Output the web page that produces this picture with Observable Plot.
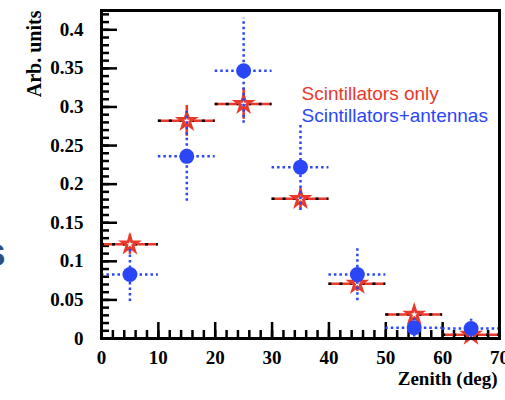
<!DOCTYPE html>
<html><head><meta charset="utf-8">
<script src="https://cdn.jsdelivr.net/npm/d3@7"></script>
<script src="https://cdn.jsdelivr.net/npm/@observablehq/plot@0.6"></script>
<style>body{margin:0;background:#fff}</style>
</head><body><div id="chart"></div>
<script>
const zenith = [5, 15, 25, 35, 45, 55, 65];
const binLo = [0, 10, 20, 30, 40, 50, 60];
const binHi = [10, 20, 30, 40, 50, 60, 70];
const scintOnly = [0.122, 0.282, 0.304, 0.181, 0.071, 0.031, 0.005];
const scintOnlyErr = [0.013, 0.02, 0.02, 0.013, 0.01, 0.008, 0.004];
const scintAnt = [0.083, 0.236, 0.347, 0.222, 0.083, 0.014, 0.013];
const scintAntErr = [0.035, 0.058, 0.068, 0.056, 0.034, 0.012, 0.012];
const seriesNames = ["Scintillators only", "Scintillators+antennas"];
const xMajor = [0, 10, 20, 30, 40, 50, 60, 70];
const xTickLabels = ["0", "10", "20", "30", "40", "50", "60", "70"];
const yMajor = [0, 0.05, 0.1, 0.15, 0.2, 0.25, 0.3, 0.35, 0.4];
const yTickLabels = ["0", "0.05", "0.1", "0.15", "0.2", "0.25", "0.3", "0.35", "0.4"];
const xTitle = "Zenith (deg)";
const yTitle = "Arb. units";

const W = 505, H = 400, mL = 101, mR = 6, mT = 10, mB = 62;
const fw = W - mL - mR, fh = H - mT - mB;
const red = "#e8392a", blue = "#2b46f7";
const xMinor = d3.range(0, 71, 2);
const yMinor = d3.range(0, 43).map(i => i / 100);

const rows = zenith.map((z, i) => ({
  z, lo: binLo[i], hi: binHi[i],
  s: scintOnly[i], se: scintOnlyErr[i],
  a: scintAnt[i], ae: scintAntErr[i]
}));

const chart = Plot.plot({
  width: W, height: H,
  marginLeft: mL, marginRight: mR, marginTop: mT, marginBottom: mB,
  x: {domain: [0, 70]},
  y: {domain: [0, 0.425]},
  style: {fontFamily: "Liberation Serif", background: "white", color: "black"},
  marks: [
    Plot.axisX(xMajor, {tickSize: 0, tickPadding: 12, fontSize: 19, fontWeight: "bold", label: null,
      tickFormat: d => xTickLabels[xMajor.indexOf(d)]}),
    Plot.axisY(yMajor, {tickSize: 0, tickPadding: 18, fontSize: 19, fontWeight: "bold", label: null,
      tickFormat: d => yTickLabels[yMajor.indexOf(d)]}),
    Plot.tickX(xMinor, {x: d => d, insetTop: fh - 8, stroke: "black", strokeWidth: 2.5}),
    Plot.tickX(xMajor, {x: d => d, insetTop: fh - 16, stroke: "black", strokeWidth: 2.5}),
    Plot.tickY(yMinor, {y: d => d, insetRight: fw - 8, stroke: "black", strokeWidth: 2.5}),
    Plot.tickY(yMajor, {y: d => d, insetRight: fw - 16, stroke: "black", strokeWidth: 2.5}),
    // Scintillators only
    Plot.ruleY(rows, {y: "s", x1: "lo", x2: "hi", stroke: red, strokeWidth: 2.5}),
    Plot.ruleY(rows, {y: "s", x1: "lo", x2: "hi", stroke: "black", strokeWidth: 2.5, strokeDasharray: "3,8"}),
    Plot.ruleX(rows, {x: "z", y1: d => d.s - d.se, y2: d => d.s + d.se, stroke: red, strokeWidth: 2.5}),
    Plot.dot(rows, {x: "z", y: "s", symbol: "star", r: 4.8, stroke: red, fill: "white", strokeWidth: 2.8}),
    // Scintillators + antennas
    Plot.ruleY(rows, {y: "a", x1: "lo", x2: "hi", stroke: blue, strokeWidth: 2.5, strokeDasharray: "2.5,3"}),
    Plot.ruleX(rows, {x: "z", y1: d => d.a - d.ae, y2: d => d.a + d.ae, stroke: blue, strokeWidth: 2.5, strokeDasharray: "2.5,3"}),
    Plot.dot(rows, {x: "z", y: "a", r: 7.5, fill: blue, stroke: "none"}),
    Plot.frame({stroke: "black", strokeWidth: 3}),
    // legend
    Plot.text([seriesNames[0]], {frameAnchor: "top-left", dx: 301 - mL, dy: 86 - mT, textAnchor: "start",
      fill: red, fontSize: 19, fontFamily: "Liberation Sans"}),
    Plot.text([seriesNames[1]], {frameAnchor: "top-left", dx: 301 - mL, dy: 108 - mT, textAnchor: "start",
      fill: blue, fontSize: 19, fontFamily: "Liberation Sans"}),
    // axis titles
    Plot.text([xTitle], {frameAnchor: "bottom-right", dx: -2, dy: 46, textAnchor: "end",
      fontSize: 19, fontWeight: "bold", fill: "black"}),
    Plot.text([yTitle], {frameAnchor: "top-left", dx: 26 - mL, dy: 0, textAnchor: "end", rotate: -90,
      fontSize: 20, fontWeight: "bold", fill: "black"}),
    // slide fragment
    Plot.text(["s"], {frameAnchor: "top-left", dx: -118, dy: 237 - mT, textAnchor: "start",
      fontSize: 40, fill: "#2f4f80", fontFamily: "Liberation Sans", fontWeight: "bold"})
  ]
});
document.getElementById("chart").appendChild(chart);
</script>
</body></html>
